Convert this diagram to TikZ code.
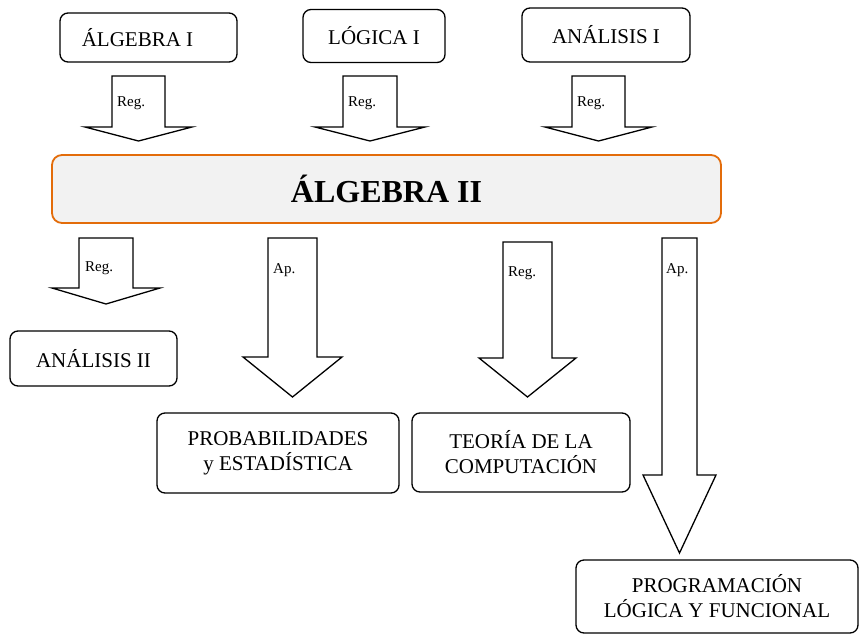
\documentclass[tikz,border=0pt]{standalone}
\usepackage{fontspec}
\setmainfont{Liberation Serif}
\definecolor{orng}{HTML}{E36C0A}
\definecolor{lgray}{HTML}{F2F2F2}
\begin{document}
\begin{tikzpicture}[x=1pt,y=-1pt,
  box/.style={draw=black, line width=1.3pt, rounded corners=8pt, inner sep=0pt, align=center,
    font=\fontsize{21}{25}\selectfont},
  mainbox/.style={draw=orng, fill=lgray, line width=1.8pt, rounded corners=10pt, inner sep=0pt,
    font=\fontsize{32}{36}\selectfont\bfseries},
  blk/.style={draw=black, line width=1.3pt, fill=white, line join=miter},
  lbl/.style={anchor=west, inner sep=0pt, font=\fontsize{15}{16}\selectfont}]
\useasboundingbox (0,0) rectangle (859,635);

% top boxes
\node[box, minimum width=177pt, minimum height=49pt] (alg1) at (148.5,37.5) {};
\node[inner sep=0pt, font=\fontsize{21}{25}\selectfont] (alg1t) at (137.5,38) {ÁLGEBRA I};
\node[box, minimum width=142pt, minimum height=53pt] (log1) at (374,36) {LÓGICA I};
\node[box, minimum width=168pt, minimum height=54pt] (ana1) at (606,35) {ANÁLISIS I};

% main box
\node[mainbox, minimum width=669pt, minimum height=68pt] (alg2) at (386.5,189) {ÁLGEBRA II};

% bottom boxes
\node[box, minimum width=167pt, minimum height=55pt] (ana2) at (93.5,358.5) {ANÁLISIS II};
\node[box, minimum width=242pt, minimum height=80pt] (prob) at (278,453) {PROBABILIDADES\\y ESTADÍSTICA};
\node[box, minimum width=218pt, minimum height=79pt] (teo) at (521,452.5) {TEORÍA DE LA\\COMPUTACIÓN};
\node[box, minimum width=282pt, minimum height=73pt] (prog) at (717,596.5) {PROGRAMACIÓN\\LÓGICA Y FUNCIONAL};

% block arrows: top row
\draw[blk] (112,76) -- (165,76) -- (165,127) -- (192,127) -- (138.5,141) -- (85,127) -- (112,127) -- cycle;
\node[lbl] (r1) at (117,103) {Reg.};
\draw[blk] (343,76) -- (397,76) -- (397,127) -- (425,127) -- (370,141) -- (315,127) -- (343,127) -- cycle;
\node[lbl] (r2) at (348,103) {Reg.};
\draw[blk] (572,76) -- (625,76) -- (625,127) -- (652,127) -- (598.5,141) -- (545,127) -- (572,127) -- cycle;
\node[lbl] (r3) at (577,103) {Reg.};

% block arrows: bottom row
\draw[blk] (79,238) -- (133,238) -- (133,288) -- (160,288) -- (106,304) -- (52,288) -- (79,288) -- cycle;
\node[lbl] (r4) at (85,268) {Reg.};
\draw[blk] (268,238) -- (317,238) -- (317,357) -- (342,357) -- (292.5,397) -- (243,357) -- (268,357) -- cycle;
\node[lbl] (a5) at (273,270) {Ap.};
\draw[blk] (503,242) -- (552,242) -- (552,358) -- (576,358) -- (527.5,397) -- (479,358) -- (503,358) -- cycle;
\node[lbl] (r6) at (508,273) {Reg.};
\draw[blk] (662,238) -- (697,238) -- (697,475) -- (716,475) -- (679.5,553) -- (643,475) -- (662,475) -- cycle;
\node[lbl] (a7) at (666,270) {Ap.};
\end{tikzpicture}
\end{document}
